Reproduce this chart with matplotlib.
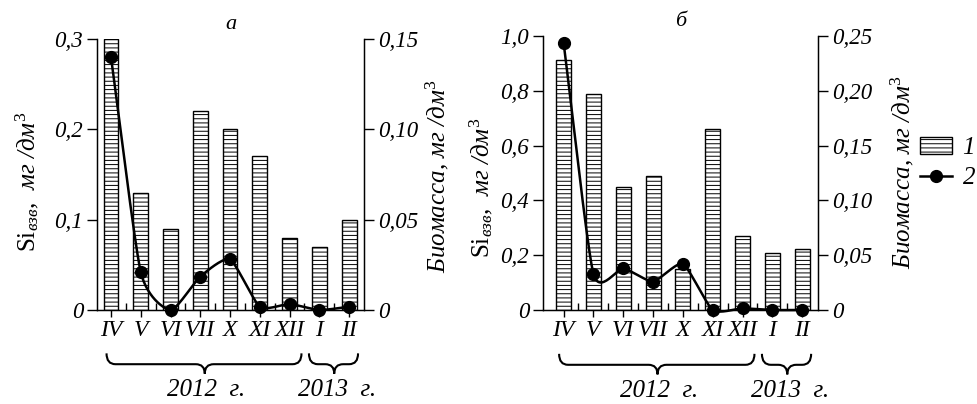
import numpy as np
import matplotlib
matplotlib.use('Agg')
import matplotlib.pyplot as plt
from matplotlib.path import Path
from matplotlib.patches import PathPatch, Patch
from matplotlib.lines import Line2D
import matplotlib.transforms as mtransforms

plt.rcParams['font.family'] = 'Liberation Serif'
plt.rcParams['font.style'] = 'italic'
plt.rcParams['mathtext.fontset'] = 'custom'
plt.rcParams['mathtext.rm'] = 'Liberation Serif:style=normal'
plt.rcParams['mathtext.it'] = 'Liberation Serif:italic'
plt.rcParams['hatch.linewidth'] = 0.7
plt.rcParams['hatch.color'] = '0.62'

months = ['IV', 'V', 'VI', 'VII', 'X', 'XI', 'XII', 'I', 'II']

# panel a
si_a = [0.30, 0.13, 0.09, 0.22, 0.20, 0.17, 0.08, 0.07, 0.10]
bio_a = [0.140, 0.021, 0.0, 0.0185, 0.028, 0.0018, 0.0033, 0.0, 0.0018]
# panel b
si_b = [0.912, 0.79, 0.45, 0.49, 0.151, 0.66, 0.269, 0.208, 0.221]
bio_b = [0.244, 0.033, 0.038, 0.026, 0.042, 0.0, 0.0015, 0.0, 0.0]

si_label = r'$\mathrm{Si}_{взв}$,  мг /дм$^{\mathrm{3}}$'
bio_label = r'Биомасса, мг /дм$^{\mathrm{3}}$'


def smooth(x, y, c=0.3, n=30):
    # cardinal spline through the points (lower tension than catmull-rom)
    x = np.asarray(x, float)
    y = np.asarray(y, float)
    t = np.linspace(0, 1, n)
    h00 = 2 * t ** 3 - 3 * t ** 2 + 1
    h10 = t ** 3 - 2 * t ** 2 + t
    h01 = -2 * t ** 3 + 3 * t ** 2
    h11 = t ** 3 - t ** 2
    xs, ys = [], []
    for p, out in ((x, xs), (y, ys)):
        m = np.zeros_like(p)
        m[1:-1] = c * (p[2:] - p[:-2])
        m[0] = 2 * c * (p[1] - p[0])
        m[-1] = 2 * c * (p[-1] - p[-2])
        for i in range(len(p) - 1):
            out.append(h00 * p[i] + h10 * m[i] + h01 * p[i + 1] + h11 * m[i + 1])
    return np.concatenate(xs), np.concatenate(ys)


def brace(ax, a, b, m, yt=-0.16, ym=-0.2, yb=-0.235, d=0.3):
    tr = mtransforms.blended_transform_factory(ax.transData, ax.transAxes)
    verts = [(a, yt), (a, ym), (a + d, ym), (m - d, ym), (m, ym), (m, yb),
             (m, ym), (m + d, ym), (b - d, ym), (b, ym), (b, yt)]
    codes = [Path.MOVETO, Path.CURVE3, Path.CURVE3, Path.LINETO,
             Path.CURVE3, Path.CURVE3, Path.CURVE3, Path.CURVE3,
             Path.LINETO, Path.CURVE3, Path.CURVE3]
    ax.add_patch(PathPatch(Path(verts, codes), transform=tr, fill=False,
                           lw=1.5, color='black', clip_on=False))


def fmt(v, nd):
    if v == 0:
        return '0'
    return f'{v:.{nd}f}'.replace('.', ',')


def panel(rect, si, bio, si_max, si_step, si_nd, bio_max, bio_step, title, xlim):
    ax = fig.add_axes(rect)
    x = np.arange(len(months))
    ax.bar(x, si, width=0.5, facecolor='white', edgecolor='black',
           linewidth=1.0, hatch='----', zorder=2)
    ax.set_xlim(*xlim)
    ax.set_ylim(0, si_max)
    yt = np.arange(0, si_max + 1e-9, si_step)
    ax.set_yticks(yt)
    ax.set_yticklabels([fmt(v, si_nd) for v in yt])
    ax.set_xticks(x)
    ax.set_xticklabels(months)
    ax.set_xticks(x[:-1] + 0.5, minor=True)
    ax.tick_params(axis='x', which='major', direction='out', length=5, width=1, pad=2, labelsize=17)
    ax.tick_params(axis='x', which='minor', direction='in', length=5, width=1)
    ax.tick_params(axis='y', direction='out', length=7, width=1, labelsize=16.5, pad=3)
    ax.spines['top'].set_visible(False)
    for s in ax.spines.values():
        s.set_linewidth(1.0)
    ax.set_title(title, fontsize=16, pad=7)

    ax2 = ax.twinx()
    ax2.set_ylim(0, bio_max)
    bt = np.arange(0, bio_max + 1e-9, bio_step)
    ax2.set_yticks(bt)
    ax2.set_yticklabels([fmt(v, 2) for v in bt])
    ax2.tick_params(axis='y', direction='out', length=7, width=1, labelsize=16.5, pad=3)
    ax2.spines['top'].set_visible(False)
    sx, sy = smooth(x, bio)
    ax2.plot(sx, sy, color='black', lw=1.8, clip_on=False, zorder=3)
    ax2.plot(x, bio, 'o', color='black', ms=8.5, clip_on=False, zorder=4)
    return ax, ax2


fig = plt.figure(figsize=(9.78, 4.04), dpi=100)

axa, axa2 = panel([97 / 978, 1 - 310 / 404, 267 / 978, 271 / 404], si_a, bio_a,
                  0.3, 0.1, 1, 0.15, 0.05, 'а', (-0.47, 8.5))
axb, axb2 = panel([543 / 978, 1 - 310 / 404, 275 / 978, 274 / 404], si_b, bio_b,
                  1.0, 0.2, 1, 0.25, 0.05, 'б', (-0.69, 8.53))

fig.text(27 / 978, 1 - 182 / 404, si_label, rotation=90, ha='center', va='center', fontsize=18)
fig.text(437 / 978, 1 - 176 / 404, bio_label, rotation=90, ha='center', va='center', fontsize=18)
fig.text(481 / 978, 1 - 188 / 404, si_label, rotation=90, ha='center', va='center', fontsize=18)
fig.text(902 / 978, 1 - 172 / 404, bio_label, rotation=90, ha='center', va='center', fontsize=18)

for ax in (axa, axb):
    brace(ax, -0.15, 6.4, 3.15)
    brace(ax, 6.65, 8.3, 7.5)
    tr = mtransforms.blended_transform_factory(ax.transData, ax.transAxes)
    ax.text(3.2, -0.295, '2012  г.', transform=tr, ha='center', va='center', fontsize=18)
    ax.text(7.6, -0.295, '2013  г.', transform=tr, ha='center', va='center', fontsize=18)

handles = [Patch(facecolor='white', edgecolor='black', hatch='----'),
           Line2D([], [], color='black', lw=1.8, marker='o', ms=8.5)]
fig.legend(handles, ['1', '2'], loc='center left', bbox_to_anchor=(920 / 978, 1 - 163 / 404),
           frameon=False, fontsize=18, handlelength=1.3, handletextpad=0.4, labelspacing=0.3,
           borderpad=0, borderaxespad=0)

fig.savefig('out.png', dpi=100)
